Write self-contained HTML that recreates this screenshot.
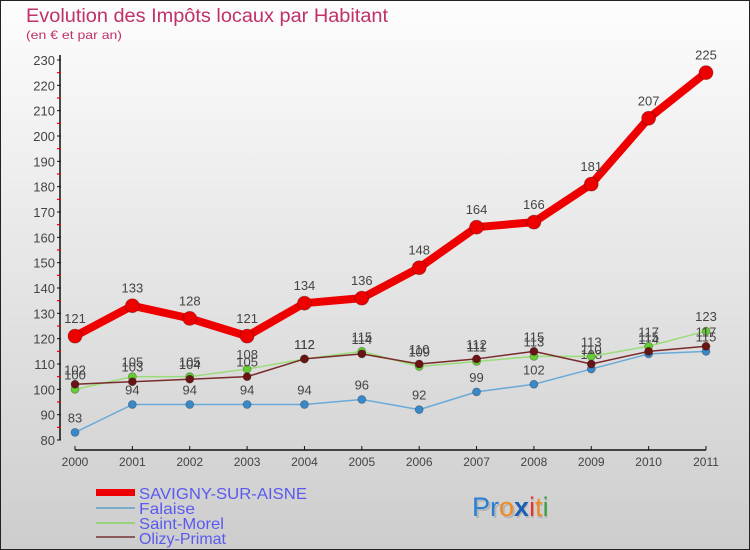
<!DOCTYPE html>
<html><head><meta charset="utf-8"><style>
html,body{margin:0;padding:0;}
svg{display:block;font-family:"Liberation Sans",sans-serif;}
</style></head><body>
<svg id="chart" width="750" height="550" viewBox="0 0 750 550">
<defs>
<linearGradient id="bg" x1="0" y1="0" x2="0" y2="1">
<stop offset="0" stop-color="#fdfdfd"/><stop offset="1" stop-color="#cdcdcd"/>
</linearGradient>
</defs>
<rect x="0.5" y="0.5" width="749" height="549" fill="url(#bg)" stroke="#222"/>
<text x="26" y="22" font-size="19" fill="#c0306a" textLength="362" lengthAdjust="spacingAndGlyphs">Evolution des Impôts locaux par Habitant</text>
<text x="26" y="39" font-size="12" fill="#c0306a" textLength="96" lengthAdjust="spacingAndGlyphs">(en € et par an)</text>
<g id="axes"></g>
<g id="series"></g>
<g id="legend">
<rect x="96" y="489" width="39" height="7" fill="#ee0000"/>
<text x="139" y="499" font-size="16" fill="#5a5aee" textLength="168" lengthAdjust="spacingAndGlyphs">SAVIGNY-SUR-AISNE</text>
<rect x="96" y="507" width="39" height="2" fill="#7aaccc"/>
<text x="139" y="514" font-size="16" fill="#5a5aee" textLength="56" lengthAdjust="spacingAndGlyphs">Falaise</text>
<rect x="96" y="522" width="39" height="2" fill="#99d27a"/>
<text x="139" y="529" font-size="16" fill="#5a5aee" textLength="85" lengthAdjust="spacingAndGlyphs">Saint-Morel</text>
<rect x="96" y="536" width="39" height="2" fill="#8a5a5a"/>
<text x="139" y="544" font-size="16" fill="#5a5aee" textLength="87" lengthAdjust="spacingAndGlyphs">Olizy-Primat</text>
</g>
<g font-size="27">
<text x="472" y="516" fill="#999" opacity="0.5" transform="translate(2,2)">Proxiti</text>
<text x="472" y="516"><tspan fill="#2a7fd4">Pr</tspan><tspan fill="#f08a1e">o</tspan><tspan fill="#1a5fb4" font-weight="bold">x</tspan><tspan fill="#e83030">i</tspan><tspan fill="#f08a1e">t</tspan><tspan fill="#3aa040">i</tspan></text>
</g>
</svg>
<script>
const years = ["2000","2001","2002","2003","2004","2005","2006","2007","2008","2009","2010","2011"];
const savigny = [121,133,128,121,134,136,148,164,166,181,207,225];
const falaise = [83,94,94,94,94,96,92,99,102,108,114,115];
const saintMorel = [100,105,105,108,112,115,109,111,113,113,117,123];
const olizy = [102,103,104,105,112,114,110,112,115,110,115,117];
const yTicks = [80,90,100,110,120,130,140,150,160,170,180,190,200,210,220,230];

const NS = "http://www.w3.org/2000/svg";
const x0 = 75, x1 = 706, yTop = 60, yBot = 440, vMin = 80, vMax = 230;
const xs = i => x0 + i * (x1 - x0) / (years.length - 1);
const ys = v => yBot - (v - vMin) * (yBot - yTop) / (vMax - vMin);
function mk(tag, attrs, parent) {
  const e = document.createElementNS(NS, tag);
  for (const k in attrs) e.setAttribute(k, attrs[k]);
  parent.appendChild(e);
  return e;
}
const axes = document.getElementById('axes');
const ya = mk('line', {x1:60, y1:yTop-5, x2:60, y2:yBot, stroke:'#111', 'stroke-width':1.5}, axes);


const xa = mk('line', {x1:x0, y1:450, x2:x1, y2:450, stroke:'#111', 'stroke-width':1.5}, axes);


yTicks.forEach((v, i) => {
  const y = ys(v);
  mk('line', {x1:57, y1:y, x2:61, y2:y, stroke:'#111'}, axes);
  if (i < yTicks.length - 1) mk('line', {x1:57, y1:y - (yBot-yTop)/30, x2:61, y2:y - (yBot-yTop)/30, stroke:'#e00', 'stroke-width':1.2}, axes);
  const t = mk('text', {x:55, y:y+5, 'font-size':13, fill:'#444', 'text-anchor':'end'}, axes);
  t.textContent = v;
  
  
});
years.forEach((yr, i) => {
  const x = xs(i);
  mk('line', {x1:x, y1:446, x2:x, y2:450, stroke:'#111'}, axes);
  const t = mk('text', {x:x, y:466, 'font-size':12, fill:'#444', 'text-anchor':'middle'}, axes);
  t.textContent = yr;
  
  
});
const seriesG = document.getElementById('series');
function drawSeries(vals, name, color, lw, r, dot) {
  const g = mk('g', {}, seriesG);
  
  
  const p = mk('polyline', {points: vals.map((v,i)=>xs(i)+','+ys(v)).join(' '), fill:'none', stroke:color, 'stroke-width':lw, 'stroke-linejoin':'round'}, g);
  
  
  vals.forEach((v,i) => {
    const c = mk('circle', {cx:xs(i), cy:ys(v), r:r, fill:dot, stroke:'rgba(0,0,0,0.3)', 'stroke-width':0.8}, g);
    
    
    const t = mk('text', {x:xs(i), y:ys(v)-(r+6), 'font-size':13, fill:'#444', 'text-anchor':'middle'}, g);
    t.textContent = v;
    
    
  });
}
drawSeries(falaise, 'falaise', '#6aaad8', 1.5, 4, '#3a88c8');
drawSeries(saintMorel, 'saint-morel', '#99dd77', 1.5, 4, '#66cc33');
drawSeries(olizy, 'olizy-primat', '#7a2a2a', 1.5, 4, '#6a1515');
drawSeries(savigny, 'savigny', '#ee0000', 8, 7, '#ee0000');
</script>
</body></html>
